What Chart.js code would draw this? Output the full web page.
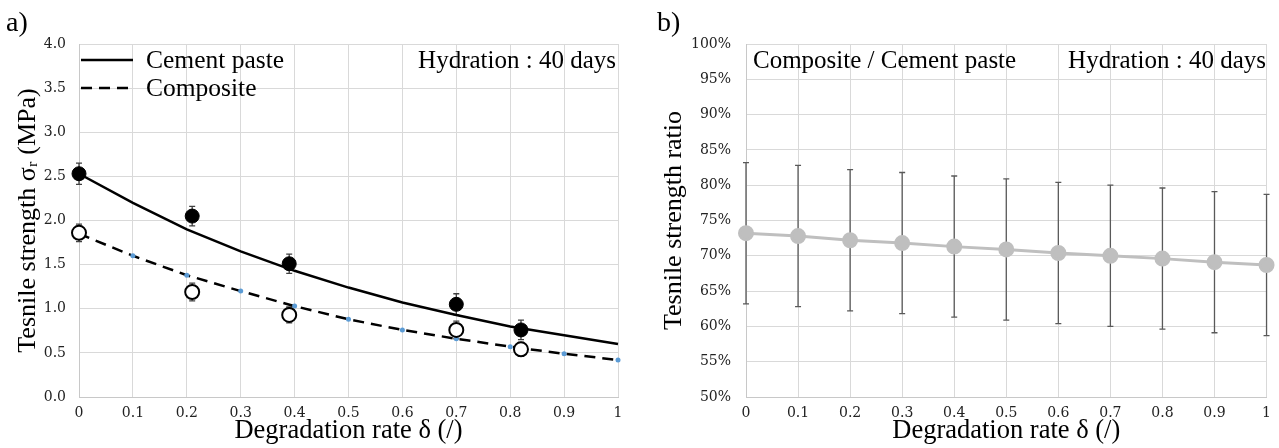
<!DOCTYPE html>
<html>
<head>
<meta charset="utf-8">
<script src="https://cdn.jsdelivr.net/npm/chart.js@4.4.1/dist/chart.umd.min.js"></script>
<style>
  body { margin: 0; background: #fff; font-family: "Liberation Serif", serif; }
  .panel { position: absolute; top: 0; height: 448px; }
  .txt { position: absolute; white-space: nowrap; color: #000; line-height: 30px; font-size: 25.5px; }
  .lbl { position: absolute; font-size: 28px; line-height: 34px; top: 5px; }
</style>
</head>
<body>
<div class="panel" id="pa" style="left:0;width:640px">
  <canvas id="chartA" width="640" height="448"></canvas>
  <div class="lbl" style="left:6px">a)</div>
  <div class="txt" style="left:146px;top:45px">Cement paste</div>
  <div class="txt" style="left:146px;top:73px">Composite</div>
  <div class="txt" style="right:24px;top:45px;font-size:25px">Hydration : 40 days</div>
</div>
<div class="panel" id="pb" style="left:640px;width:639px">
  <canvas id="chartB" width="639" height="448"></canvas>
  <div class="lbl" style="left:17px">b)</div>
  <div class="txt" style="left:113px;top:45px;font-size:25px">Composite / Cement paste</div>
  <div class="txt" style="right:13px;top:45px;font-size:25px">Hydration : 40 days</div>
</div>
<script>
// degradation rate steps and their tick labels
const rates = [0, 0.1, 0.2, 0.3, 0.4, 0.5, 0.6, 0.7, 0.8, 0.9, 1];
const xTicks = ['0', '0.1', '0.2', '0.3', '0.4', '0.5', '0.6', '0.7', '0.8', '0.9', '1'];
const yTicksA = ['0.0', '0.5', '1.0', '1.5', '2.0', '2.5', '3.0', '3.5', '4.0'];
const yTicksB = ['50%', '55%', '60%', '65%', '70%', '75%', '80%', '85%', '90%', '95%', '100%'];

// a) fitted curves (MPa)
const cementFit = [2.53, 2.20, 1.90, 1.65, 1.43, 1.24, 1.07, 0.93, 0.80, 0.70, 0.60];
const compositeFit = [1.85, 1.60, 1.38, 1.20, 1.03, 0.88, 0.76, 0.66, 0.57, 0.49, 0.42];

// a) measured points
const expRates = [0, 0.21, 0.39, 0.70, 0.82];
const cementExp = [2.53, 2.05, 1.51, 1.05, 0.76];
const cementErr = [0.12, 0.11, 0.11, 0.12, 0.11];
const compositeExp = [1.86, 1.19, 0.93, 0.76, 0.54];
const compositeErr = [0.10, 0.10, 0.09, 0.10, 0.08];

// b) ratio (%)
const ratio = [73.2, 72.8, 72.2, 71.8, 71.3, 70.9, 70.4, 70.0, 69.6, 69.1, 68.7];
const ratioErr = [10, 10, 10, 10, 10, 10, 10, 10, 10, 10, 10];

const FONT = 'Liberation Serif';
const TICKFONT = 'DejaVu Serif';
const GRID = '#d9d9d9';

function pts(xs, ys) {
  return xs.map((x, i) => ({ x: x, y: ys[i] }));
}

const errorBars = {
  id: 'errorBars',
  beforeDatasetsDraw(chart) {
    const ctx = chart.ctx;
    const x = chart.scales.x, y = chart.scales.y;
    chart.data.datasets.forEach(ds => {
      if (!ds.errors) return;
      ctx.save();
      ctx.strokeStyle = ds.errorColor;
      ctx.lineWidth = ds.errorWidth;
      ds.data.forEach((p, j) => {
        const px = x.getPixelForValue(p.x);
        const t = y.getPixelForValue(p.y + ds.errors[j]);
        const b = y.getPixelForValue(p.y - ds.errors[j]);
        ctx.beginPath();
        ctx.moveTo(px, t); ctx.lineTo(px, b);
        ctx.moveTo(px - 3, t); ctx.lineTo(px + 3, t);
        ctx.moveTo(px - 3, b); ctx.lineTo(px + 3, b);
        ctx.stroke();
      });
      ctx.restore();
    });
  }
};

const legendLines = {
  id: 'legendLines',
  afterDraw(chart) {
    const ctx = chart.ctx;
    ctx.save();
    ctx.strokeStyle = '#000';
    ctx.lineWidth = 2.5;
    ctx.beginPath(); ctx.moveTo(81, 60); ctx.lineTo(133, 60); ctx.stroke();
    ctx.setLineDash([11, 7]);
    ctx.beginPath(); ctx.moveTo(81, 88); ctx.lineTo(135, 88); ctx.stroke();
    ctx.restore();
  }
};

function xScale() {
  return {
    type: 'linear', min: 0, max: 1,
    afterFit(s) { s.height = 51; },
    grid: { color: GRID, drawTicks: false },
    border: { color: '#c8c8c8' },
    ticks: {
      stepSize: 0.1, padding: 8, color: '#222',
      font: { family: TICKFONT, size: 14 },
      callback: (v, i) => xTicks[i]
    },
    title: {
      display: true, text: 'Degradation rate δ (/)', color: '#000',
      font: { family: FONT, size: 26.5 }, padding: { top: 0, bottom: 1 }
    }
  };
}

new Chart(document.getElementById('chartA'), {
  type: 'line',
  data: {
    datasets: [
      {
        label: 'Cement paste (exp)', data: pts(expRates, cementExp), showLine: false, clip: false,
        pointRadius: 7, pointBackgroundColor: '#000', pointBorderColor: '#000', pointBorderWidth: 1,
        errors: cementErr, errorColor: '#404040', errorWidth: 1.3, order: 0
      },
      {
        label: 'Composite (exp)', data: pts(expRates, compositeExp), showLine: false, clip: false,
        pointRadius: 7, pointBackgroundColor: '#fff', pointBorderColor: '#000', pointBorderWidth: 2,
        errors: compositeErr, errorColor: '#404040', errorWidth: 1.3, order: 1
      },
      {
        label: 'Cement paste', data: pts(rates, cementFit), borderColor: '#000', borderWidth: 2.5,
        pointRadius: 0, tension: 0, clip: false, order: 2
      },
      {
        label: 'Composite', data: pts(rates, compositeFit), borderColor: '#000', borderWidth: 2.5,
        borderDash: [11, 7], pointRadius: 2.5, pointBackgroundColor: '#5b9bd5', pointBorderWidth: 0,
        tension: 0, clip: false, order: 3
      }
    ]
  },
  options: {
    responsive: false, animation: false,
    layout: { padding: { top: 44, right: 22, left: 0, bottom: 0 } },
    plugins: { legend: { display: false }, tooltip: { enabled: false } },
    scales: {
      x: xScale(),
      y: {
        min: 0, max: 4,
        afterFit(s) { s.width = 79; },
        grid: { color: GRID, drawTicks: false },
        border: { color: '#c8c8c8' },
        ticks: {
          stepSize: 0.5, padding: 13, color: '#222',
          font: { family: TICKFONT, size: 14 },
          callback: (v, i) => yTicksA[i]
        },
        title: {
          display: true, text: 'Tesnile strength σᵣ (MPa)', color: '#000',
          font: { family: FONT, size: 26 }, padding: { top: 13, bottom: 0 }
        }
      }
    }
  },
  plugins: [errorBars, legendLines]
});

new Chart(document.getElementById('chartB'), {
  type: 'line',
  data: {
    datasets: [{
      label: 'Composite / Cement paste', data: pts(rates, ratio), clip: false,
      borderColor: '#bfbfbf', borderWidth: 3, tension: 0,
      pointRadius: 6.5, pointBackgroundColor: '#bfbfbf', pointBorderColor: '#bfbfbf',
      errors: ratioErr, errorColor: '#595959', errorWidth: 1.3
    }]
  },
  options: {
    responsive: false, animation: false,
    layout: { padding: { top: 44, right: 11, left: 0, bottom: 0 } },
    plugins: { legend: { display: false }, tooltip: { enabled: false } },
    scales: {
      x: xScale(),
      y: {
        min: 50, max: 100,
        afterFit(s) { s.width = 106; },
        grid: { color: GRID, drawTicks: false },
        border: { color: '#c8c8c8' },
        ticks: {
          stepSize: 5, padding: 15, color: '#222',
          font: { family: TICKFONT, size: 14 },
          callback: (v, i) => yTicksB[i]
        },
        title: {
          display: true, text: 'Tesnile strength ratio', color: '#000',
          font: { family: FONT, size: 26 }, padding: { top: 19, bottom: 0 }
        }
      }
    }
  },
  plugins: [errorBars]
});
</script>
</body>
</html>
